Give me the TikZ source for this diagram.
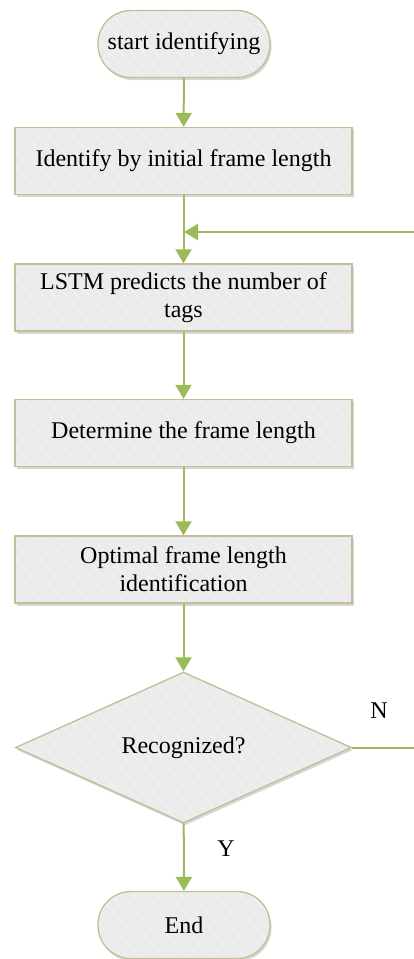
\documentclass[tikz,border=0pt]{standalone}
\usepackage{fontspec}
\setmainfont{Liberation Serif}
\usetikzlibrary{arrows.meta,shapes.geometric,shadows,patterns.meta}
\definecolor{boxfill}{HTML}{EBEBEB}
\definecolor{boxline}{HTML}{C4BD97}
\definecolor{flowgreen}{HTML}{9BBB59}
\tikzset{
  base/.style={
    drop shadow={shadow xshift=1.5pt, shadow yshift=-2.5pt, fill=black!35, opacity=0.45},
    preaction={fill=boxfill},
    preaction={pattern={Lines[angle=-50,distance=9pt,line width=0.7pt]}, pattern color=white!50!boxfill},
    draw=boxline, line width=1.3pt, align=center,
    font=\fontsize{24}{28}\selectfont, inner sep=0pt},
  procbox/.style={base, rectangle, minimum width=337pt, minimum height=67pt},
  termbox/.style={base, rectangle, rounded corners=33pt, minimum width=172pt, minimum height=67pt},
  decbox/.style={base, diamond, aspect=2.225, minimum width=336pt, minimum height=151pt},
  flow/.style={draw=flowgreen, line width=2pt, -{Triangle[width=16pt,length=14pt]}},
  lbl/.style={font=\fontsize{24}{28}\selectfont, inner sep=0pt}
}
\begin{document}
\begin{tikzpicture}[x=1pt,y=-1pt]
\useasboundingbox (0,0) rectangle (414,959);
\node[termbox] (start) at (184,44) {start identifying};
\node[procbox] (p1) at (183.5,161) {Identify by initial frame length};
\node[procbox] (p2) at (183.5,297.5) {LSTM predicts the number of\\tags};
\node[procbox] (p3) at (183.5,433) {Determine the frame length};
\node[procbox] (p4) at (183.5,569.5) {Optimal frame length\\identification};
\node[decbox] (dec) at (183.5,747.5) {Recognized?};
\node[termbox] (fin) at (184,925) {End};
\node[lbl] (nl) at (379,711) {N};
\node[lbl] (yl) at (226,849) {Y};
\coordinate (merge) at (184,232);
\coordinate (c1) at (418,747.5);
\coordinate (c2) at (418,232);
\draw[flow] (start) -- (p1);
\draw[flow] (p1) -- (p2);
\draw[flow] (p2) -- (p3);
\draw[flow] (p3) -- (p4);
\draw[flow] (p4) -- (dec);
\draw[flow] (dec) -- (fin);
\draw[flow] (dec.east) -- (c1) -- (c2) -- (merge);
\end{tikzpicture}
\end{document}
